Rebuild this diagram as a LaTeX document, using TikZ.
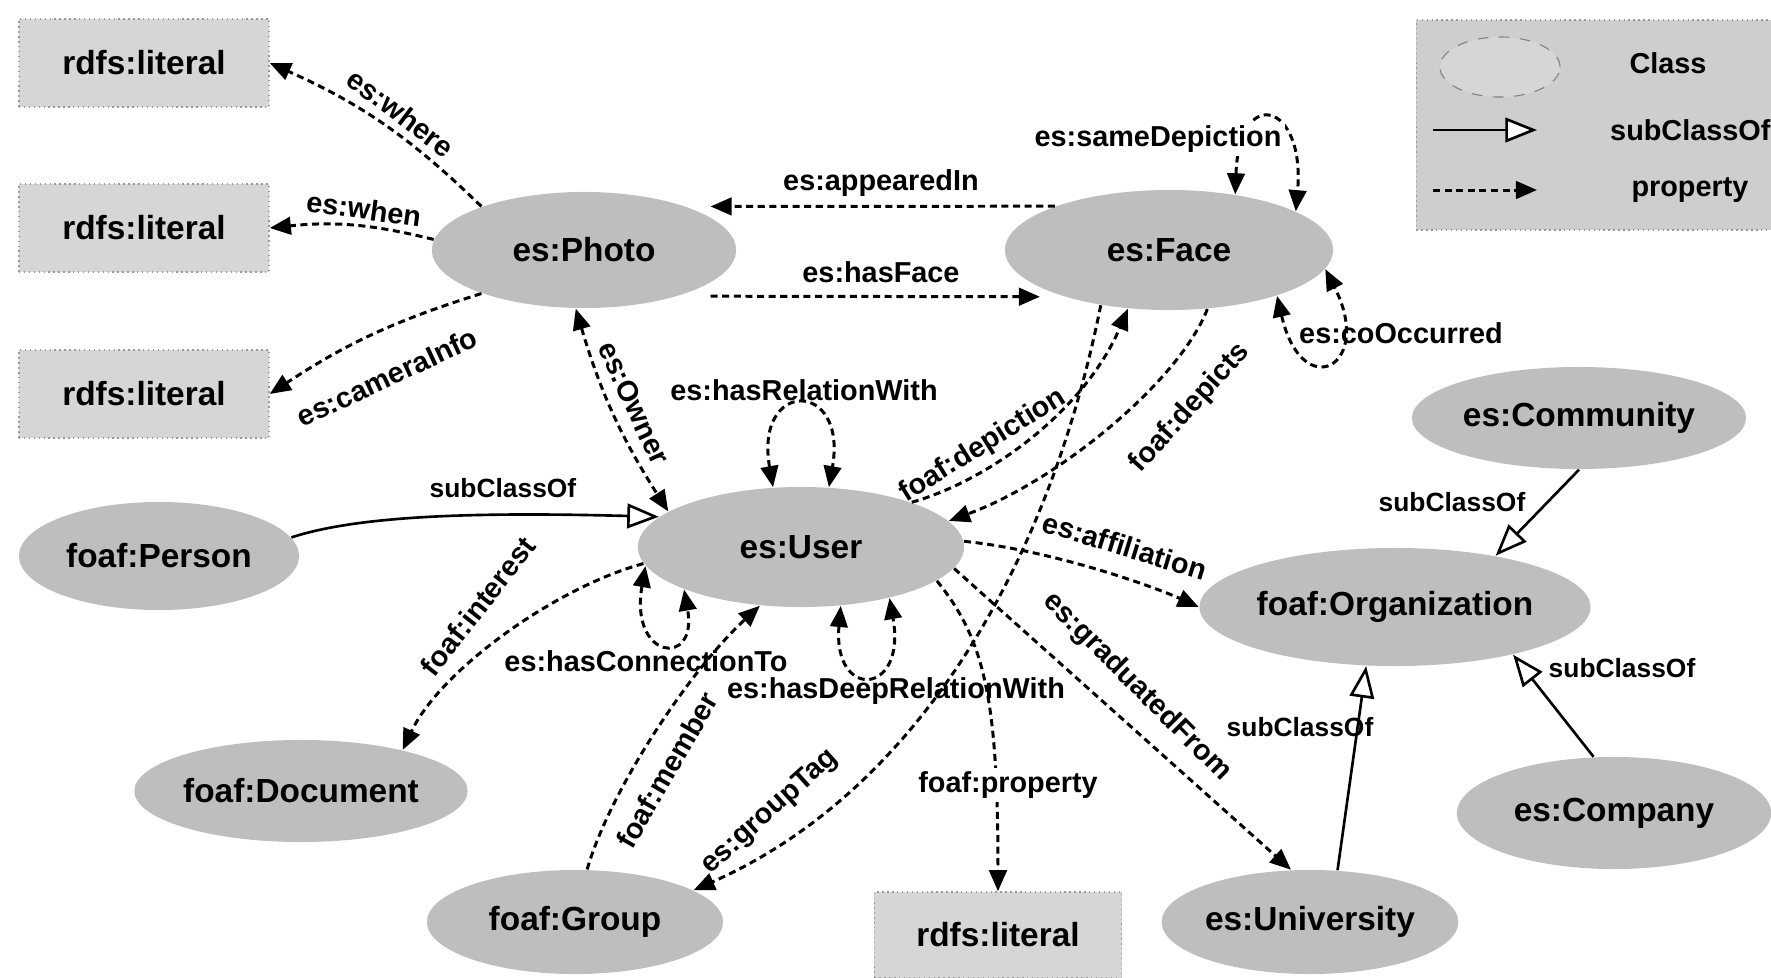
\documentclass[tikz,border=0pt]{standalone}
\usepackage{fontspec}
\setmainfont{Liberation Sans}
\usetikzlibrary{arrows.meta,shapes.geometric}

\definecolor{classfill}{RGB}{190,190,190}
\definecolor{litfill}{RGB}{214,214,214}
\definecolor{keyfill}{RGB}{206,206,206}

\tikzset{
  cls/.style={ellipse, fill=classfill, draw=none, inner sep=0pt,
    font=\fontsize{9.5}{11}\selectfont\bfseries},
  lit/.style={rectangle, fill=litfill, draw=gray!80, densely dotted, line width=0.4pt,
    minimum width=2.5cm, minimum height=0.88cm, inner sep=0pt,
    font=\fontsize{9.5}{11}\selectfont\bfseries},
  tipf/.tip={Triangle[length=6pt,width=5pt]},
  prop/.style={draw=black, line width=0.85pt, dash pattern=on 2pt off 1.3pt, -tipf},
  propboth/.style={prop, tipf-tipf},
  sub/.style={draw=black, line width=0.75pt,
    -{Triangle[open,fill=white,length=9pt,width=7pt]}},
  elab/.style={font=\fontsize{8.2}{10}\selectfont\bfseries, inner sep=1pt},
  slab/.style={font=\fontsize{7.5}{9}\selectfont\bfseries, inner sep=1pt},
}

\begin{document}
\begin{tikzpicture}[x=0.01cm, y=0.01cm]
\useasboundingbox (0,0) rectangle (1771,-978);
\clip (0,0) rectangle (1771,-978);

% ---------- classes ----------
\node[cls, minimum width=3.04cm, minimum height=1.16cm] (photo) at (584,-250) {es:Photo};
\node[cls, minimum width=3.28cm, minimum height=1.20cm] (face) at (1169,-250) {es:Face};
\node[cls, minimum width=3.26cm, minimum height=1.20cm] (user) at (801,-547) {es:User};
\node[cls, minimum width=2.80cm, minimum height=1.08cm] (person) at (159,-556) {foaf:Person};
\node[cls, minimum width=3.20cm, minimum height=1.02cm] (document) at (301,-791) {foaf:Document};
\node[cls, minimum width=2.96cm, minimum height=1.04cm] (group) at (575,-922) {foaf:Group};
\node[cls, minimum width=2.94cm, minimum height=1.04cm] (university) at (1310,-922) {es:University};
\node[cls, minimum width=3.50cm, minimum height=1.18cm] (organization) at (1395,-607) {foaf:Organization};
\node[cls, minimum width=3.34cm, minimum height=1.02cm] (community) at (1579,-418) {es:Community};
\node[cls, minimum width=3.14cm, minimum height=1.12cm] (company) at (1614,-813) {es:Company};

% ---------- literals ----------
\node[lit] (lit1) at (144,-63) {rdfs:literal};
\node[lit] (lit2) at (144,-228) {rdfs:literal};
\node[lit] (lit3) at (144,-394) {rdfs:literal};
\node[lit, minimum width=2.47cm, minimum height=0.86cm] (lit4) at (998,-935) {rdfs:literal};

% ---------- legend ----------
\node[rectangle, fill=keyfill, draw=gray!80, densely dotted, line width=0.4pt,
      minimum width=3.83cm, minimum height=2.10cm, inner sep=0pt] (key) at (1608,-125) {};
\node[ellipse, fill=litfill, draw=gray, dashed, line width=0.3pt,
      minimum width=1.2cm, minimum height=0.6cm, inner sep=0pt] (keyclass) at (1500,-67) {};
\node[elab] (keyclasstxt) at (1668,-63) {Class};
\coordinate (ks1) at (1433,-130);
\coordinate (ks2) at (1537,-130);
\draw[sub] (ks1) -- (ks2);
\node[elab, anchor=west] (keysubtxt) at (1606,-130) {subClassOf};
\coordinate (kp1) at (1433,-190);
\coordinate (kp2) at (1537,-190);
\draw[prop] (kp1) -- (kp2);
\node[elab] (keyproptxt) at (1690,-190) {property};

% ---------- properties of es:Photo ----------
\draw[prop] (photo.157) to[bend right=10] (lit1.east);
\draw[prop] (photo.176) to[bend right=10] (lit2.east);
\draw[prop] (photo.203) to[bend right=8] (lit3.east);
\draw[prop, shorten <=0.32cm, shorten >=0.24cm] (photo.-26) -- (face.204);
\draw[prop, shorten >=0.24cm] (face.159) -- (photo.23);
\draw[propboth] (photo.262) to[bend right=8] (user.165);

% ---------- subclass links ----------
\draw[sub] (person.8) .. controls (360,-515) and (480,-512) .. (user.168);
\draw[sub] (community.south) -- (organization.27);
\draw[sub] (company.110) -- (organization.-22);
\draw[sub] (university.62) -- (organization.244);

% ---------- properties of es:User and es:Face ----------
\draw[prop] (user.186) .. controls (554,-588) and (440,-671) .. (document.22);
\draw[prop] (group.77) .. controls (610,-790) and (690,-670) .. (user.235);
\draw[prop] (face.219) .. controls (1050,-560) and (920,-790) .. (group.15);
\draw[prop] (user.22) .. controls (990,-480) and (1085,-410) .. (face.235);
\draw[prop] (face.303) .. controls (1180,-380) and (1060,-480) .. (user.10);
\draw[prop] (user.2) .. controls (1050,-550) and (1150,-585) .. (organization.180);
\draw[prop] (user.-14) .. controls (985,-640) and (998,-700) .. (lit4.north);
\draw[prop] (user.-8) -- (university.110);

% ---------- self loops ----------
\draw[propboth] (user.115) .. controls +(100:110) and +(80:110) .. (user.65);
\draw[propboth] (user.187) .. controls +(260:95) and +(280:80) .. (user.200);
\draw[propboth] (user.-56) .. controls +(-95:95) and +(-80:100) .. (user.-30);
\draw[propboth] (face.40) .. controls +(88:110) and +(85:110) .. (face.17);
\draw[propboth] (face.-23) .. controls +(-77:112) and +(-63:109) .. (face.-7);

% ---------- edge labels ----------
\node[elab, rotate=-37] (lwhere) at (401,-113) {es:where};
\node[elab, rotate=-8] (lwhen) at (364,-209) {es:when};
\node[elab, rotate=25] (lcamera) at (387,-377) {es:cameraInfo};
\node[elab] (lappeared) at (881,-183) {es:appearedIn};
\node[elab] (lhasface) at (881,-272) {es:hasFace};
\node[elab, fill=white] (lsamedep) at (1158,-139) {es:sameDepiction};
\node[elab] (lcooc) at (1401,-333) {es:coOccurred};
\node[elab, rotate=-65] (lowner) at (634,-403) {es:Owner};
\node[elab] (lhasrel) at (804,-390) {es:hasRelationWith};
\node[elab, rotate=32] (ldepiction) at (983,-446) {foaf:depiction};
\node[elab, rotate=48] (ldepicts) at (1190,-408) {foaf:depicts};
\node[elab, rotate=-17] (laffil) at (1125,-546) {es:affiliation};
\node[elab, rotate=-45] (lgrad) at (1137,-687) {es:graduatedFrom};
\node[elab, fill=white] (lprop) at (1008,-785) {foaf:property};
\node[elab] (ldeep) at (896,-691) {es:hasDeepRelationWith};
\node[elab] (lconn) at (646,-661) {es:hasConnectionTo};
\node[elab, rotate=52] (linterest) at (478,-606) {foaf:interest};
\node[elab, rotate=60] (lmember) at (667,-770) {foaf:member};
\node[elab, rotate=42] (lgroup) at (770,-812) {es:groupTag};
\node[slab] (lsub1) at (503,-488) {subClassOf};
\node[slab] (lsub2) at (1452,-502) {subClassOf};
\node[slab] (lsub3) at (1622,-668) {subClassOf};
\node[slab] (lsub4) at (1300,-727) {subClassOf};
\end{tikzpicture}
\end{document}
